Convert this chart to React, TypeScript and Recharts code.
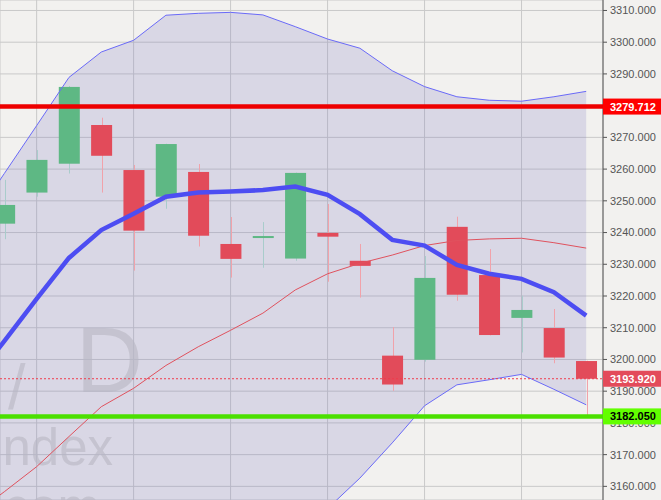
import React from 'react';
import { ComposedChart, Area, Line, Bar, XAxis, YAxis, CartesianGrid, ReferenceLine } from 'recharts';

// candle index (-1 is the bar just left of the visible window, only its indicators show)
const idx = [-1, 0, 1, 2, 3, 4, 5, 6, 7, 8, 9, 10, 11, 12, 13, 14, 15, 16, 17, 18];

const opens = [null, 3242.8, 3252.6, 3261.7, 3273.9, 3259.7, 3251.3, 3259.1, 3236.4, 3238.3, 3231.8, 3239.9, 3231.1, 3201.2, 3199.9, 3241.8, 3226.6, 3213.1, 3209.9, 3199.5];
const highs = [null, 3256.6, 3266.0, 3286.2, 3276.2, 3261.3, 3268.0, 3261.6, 3244.9, 3243.3, 3258.9, 3249.0, 3236.4, 3210.2, 3232.6, 3245.0, 3234.8, 3220.1, 3215.9, 3199.6];
const lows = [null, 3237.9, 3251.3, 3258.6, 3252.6, 3228.0, 3247.5, 3235.6, 3225.8, 3228.9, 3231.1, 3224.5, 3219.5, 3190.1, 3199.3, 3218.5, 3207.6, 3202.2, 3198.8, 3182.3];
const closes = [null, 3248.7, 3262.9, 3285.9, 3264.2, 3240.6, 3267.9, 3239.0, 3231.7, 3238.9, 3258.8, 3238.7, 3229.5, 3192.1, 3225.7, 3220.4, 3207.7, 3215.6, 3200.6, 3193.92];

// bollinger bands and moving average
const upper = [3243.5, 3258.6, 3273.7, 3288.9, 3296.9, 3300.6, 3308.5, 3309.1, 3309.4, 3308.6, 3304.9, 3301.0, 3298.1, 3291.0, 3286.0, 3282.8, 3281.7, 3281.4, 3282.8, 3284.5];
const middle = [3150.7, 3158.3, 3166.2, 3175.7, 3185.1, 3190.9, 3198.1, 3204.0, 3209.2, 3214.6, 3221.9, 3227.0, 3230.3, 3232.9, 3235.9, 3237.5, 3238.0, 3238.2, 3236.8, 3235.1];
const lower = [3057.9, 3058.0, 3058.7, 3062.5, 3073.3, 3081.2, 3087.7, 3098.9, 3109.0, 3120.6, 3138.9, 3153.0, 3162.6, 3173.7, 3185.4, 3192.0, 3193.6, 3195.3, 3190.6, 3185.7];
const ma = [3192.6, 3205.8, 3219.1, 3232.0, 3240.8, 3245.9, 3251.3, 3252.6, 3252.9, 3253.4, 3254.5, 3251.9, 3245.8, 3237.7, 3235.9, 3229.8, 3227.0, 3225.4, 3221.2, 3213.8];

const yTicks = [3160, 3170, 3180, 3190, 3200, 3210, 3220, 3230, 3240, 3250, 3260, 3270, 3280, 3290, 3300, 3310];
const xGridTicks = [1, 4, 7, 10, 13, 16];

const resistance = 3279.712;
const lastPrice = 3193.92;
const support = 3182.05;

const data = idx.map((i, k) => ({
  i,
  range: opens[k] == null ? null : [lows[k], highs[k]],
  open: opens[k],
  high: highs[k],
  low: lows[k],
  close: closes[k],
  band: [lower[k], upper[k]],
  upper: upper[k],
  middle: middle[k],
  lower: lower[k],
  ma: ma[k],
}));

const FONT = "Arial, 'Liberation Sans', sans-serif";
const X_DOMAIN = [-0.133, 18.52];
const Y_DOMAIN = [3155.7, 3313.3];

const Candle = (props: any) => {
  const { x, y, width, height, payload } = props;
  if (!payload || payload.open == null) return null;
  const top = Math.min(y, y + height);
  const bottom = Math.max(y, y + height);
  const { open, close, high, low } = payload;
  const k = high === low ? 0 : (bottom - top) / (high - low);
  const py = (v: number) => top + (high - v) * k;
  const up = close >= open;
  const cx = Math.round(x + width / 2) + 0.5;
  const bTop = py(Math.max(open, close));
  const bBot = py(Math.min(open, close));
  return (
    <g>
      <line x1={cx} x2={cx} y1={top} y2={bottom} stroke={up ? '#a9cccb' : '#f1a2aa'} strokeWidth={1} />
      <rect x={x} y={bTop} width={width} height={Math.max(bBot - bTop, 2)} fill={up ? '#5eb884' : '#e24b5a'} />
    </g>
  );
};

const Badge = (props: any) => {
  const { viewBox, text, bg, color } = props;
  if (!viewBox) return null;
  const x = viewBox.x + viewBox.width;
  const y = viewBox.y;
  return (
    <g>
      <rect x={x} y={y - 8} width={58} height={16} fill={bg} />
      <text x={x + 7} y={y} dy="0.36em" fill={color} fontSize={11} fontWeight="bold" fontFamily={FONT}>
        {text}
      </text>
    </g>
  );
};

const noDot = () => <g />;

export default function App() {
  return (
    <div style={{ position: 'fixed', left: 0, top: 0, width: 661, height: 500, background: '#f2f1ef', overflow: 'hidden' }}>
      <svg width={661} height={500} style={{ position: 'absolute', left: 0, top: 0 }}>
        <g fill="#d9d8d5" fontFamily={FONT}>
          <text x={8} y={409} fontSize={63}>/</text>
          <text x={143} y={392} fontSize={93} textAnchor="end">D</text>
          <text x={113} y={465} fontSize={51} textAnchor="end">Index</text>
          <text x={100} y={525} fontSize={51} textAnchor="end">.com</text>
        </g>
      </svg>
      <div style={{ position: 'absolute', left: 0, top: 0 }}>
        <ComposedChart width={661} height={500} data={data} margin={{ top: 0, right: 0, bottom: 0, left: 0 }}>
          <CartesianGrid stroke="#c9c9c9" strokeWidth={1} />
          <XAxis type="number" dataKey="i" domain={X_DOMAIN} ticks={xGridTicks} hide allowDataOverflow />
          <YAxis
            orientation="right"
            width={58}
            domain={Y_DOMAIN}
            allowDataOverflow
            ticks={yTicks}
            tickFormatter={(v: number) => v.toFixed(3)}
            tick={{ fill: '#555', fontSize: 11, fontFamily: FONT }}
            axisLine={{ stroke: '#555' }}
            tickLine={{ stroke: '#555' }}
            tickSize={4}
            tickMargin={3}
          />
          <Area dataKey="band" type="linear" stroke="none" fill="rgb(122,116,189)" fillOpacity={0.2} dot={false} activeDot={false} isAnimationActive={false} />
          <Line dataKey="upper" type="linear" stroke="#6a6af8" strokeWidth={1} dot={noDot} activeDot={false} isAnimationActive={false} />
          <Line dataKey="lower" type="linear" stroke="#6a6af8" strokeWidth={1} dot={noDot} activeDot={false} isAnimationActive={false} />
          <Line dataKey="middle" type="linear" stroke="#e0525e" strokeWidth={1} dot={noDot} activeDot={false} isAnimationActive={false} />
          <Line dataKey="ma" type="linear" stroke="#4d4df2" strokeWidth={4.5} dot={noDot} activeDot={false} isAnimationActive={false} />
          <Bar dataKey="range" barSize={21} shape={(p: any) => <Candle {...p} />} activeBar={false} isAnimationActive={false} />
        </ComposedChart>
      </div>
      {/* price levels and their badges sit above the axis labels */}
      <div style={{ position: 'absolute', left: 0, top: 0 }}>
        <ComposedChart width={661} height={500} data={data} margin={{ top: 0, right: 58, bottom: 0, left: 0 }}>
          <XAxis type="number" dataKey="i" domain={X_DOMAIN} hide allowDataOverflow />
          <YAxis domain={Y_DOMAIN} hide allowDataOverflow />
          <ReferenceLine y={resistance} stroke="#ee0000" strokeWidth={4.5} label={<Badge text="3279.712" bg="#ff0000" color="#fff" />} />
          <ReferenceLine y={support} stroke="#4be000" strokeWidth={4.5} label={<Badge text="3182.050" bg="#62ff00" color="#000" />} />
          <ReferenceLine y={lastPrice} stroke="#f03c4c" strokeWidth={1} strokeDasharray="2 2" label={<Badge text="3193.920" bg="#e34b5a" color="#fff" />} />
        </ComposedChart>
      </div>
    </div>
  );
}
